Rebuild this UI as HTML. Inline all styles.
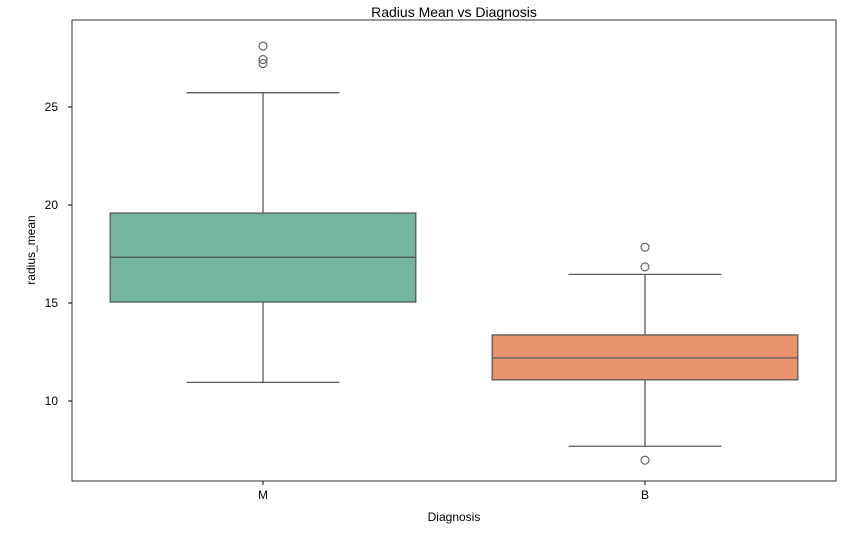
<!DOCTYPE html>
<html><head><meta charset="utf-8"><style>
body{margin:0;background:#fff;}
svg{font-family:"Liberation Sans","DejaVu Sans",sans-serif;}
</style></head><body>
<svg id="chart" width="858" height="530" viewBox="0 0 858 530" xmlns="http://www.w3.org/2000/svg">
<text x="454" y="17" text-anchor="middle" font-size="14" fill="#000">Radius Mean vs Diagnosis</text>
<rect x="72" y="20" width="764" height="461" fill="none" stroke="#000" stroke-width="0.8"/>
<g id="yaxis"></g>
<g id="xaxis"></g>
<g id="boxes"></g>
<text transform="translate(35,250) rotate(-90)" text-anchor="middle" font-size="12" fill="#000">radius_mean</text>
<text x="454" y="521" text-anchor="middle" font-size="12" fill="#000">Diagnosis</text>
</svg>
<script>
const categories=["M","B"];
const whiskLow=[10.95,7.69];
const q1=[15.05,11.08];
const median=[17.33,12.2];
const q3=[19.59,13.37];
const whiskHigh=[25.73,16.46];
const outliers=[[28.11,27.42,27.22],[17.85,16.84,6.98]];
const colors=["#72b6a1","#e9936f"];
const yTicks=[10,15,20,25];
const NS="http://www.w3.org/2000/svg";
const L=72,R=836,T=20,B=481;
function y(v){return 401-(v-10)*19.6;}
function x(i){return L+(R-L)*(i+0.5)/categories.length;}
const bw=(R-L)/categories.length*0.8;
function mk(tag,attrs,parent){const e=document.createElementNS(NS,tag);for(const k in attrs)e.setAttribute(k,attrs[k]);parent.appendChild(e);return e;}
const ya=document.getElementById('yaxis'),xa=document.getElementById('xaxis'),bx=document.getElementById('boxes');
yTicks.forEach(t=>{
 const l=mk('line',{x1:L-4,x2:L,y1:y(t),y2:y(t),stroke:'#000'},ya);
 
 
 const tx=mk('text',{x:L-14,y:y(t)+4,'text-anchor':'end','font-size':'12',fill:'#000'},ya);
 tx.textContent=t;
 
 
});
const lc="#5a5a5a";
categories.forEach((c,i)=>{
 const cx=x(i);
 const l=mk('line',{x1:cx,x2:cx,y1:B,y2:B+4,stroke:'#000'},xa);
 
 
 const tx=mk('text',{x:cx,y:B+18,'text-anchor':'middle','font-size':'12',fill:'#000'},xa);
 tx.textContent=c;
 
 
 const g=mk('g',{},bx);
 
 
 mk('line',{x1:cx,x2:cx,y1:y(whiskHigh[i]),y2:y(q3[i]),stroke:lc,'stroke-width':1.3},g);
 mk('line',{x1:cx,x2:cx,y1:y(q1[i]),y2:y(whiskLow[i]),stroke:lc,'stroke-width':1.3},g);
 mk('line',{x1:cx-bw/4,x2:cx+bw/4,y1:y(whiskHigh[i]),y2:y(whiskHigh[i]),stroke:lc,'stroke-width':1.3},g);
 mk('line',{x1:cx-bw/4,x2:cx+bw/4,y1:y(whiskLow[i]),y2:y(whiskLow[i]),stroke:lc,'stroke-width':1.3},g);
 mk('rect',{x:cx-bw/2,y:y(q3[i]),width:bw,height:y(q1[i])-y(q3[i]),fill:colors[i],stroke:lc,'stroke-width':1.3},g);
 mk('line',{x1:cx-bw/2,x2:cx+bw/2,y1:y(median[i]),y2:y(median[i]),stroke:lc,'stroke-width':1.3},g);
 outliers[i].forEach(o=>{
  const p=mk('circle',{cx:cx,cy:y(o),r:4,fill:'none',stroke:lc,'stroke-width':1.1},g);
  
  
 });
});
</script>
</body></html>
